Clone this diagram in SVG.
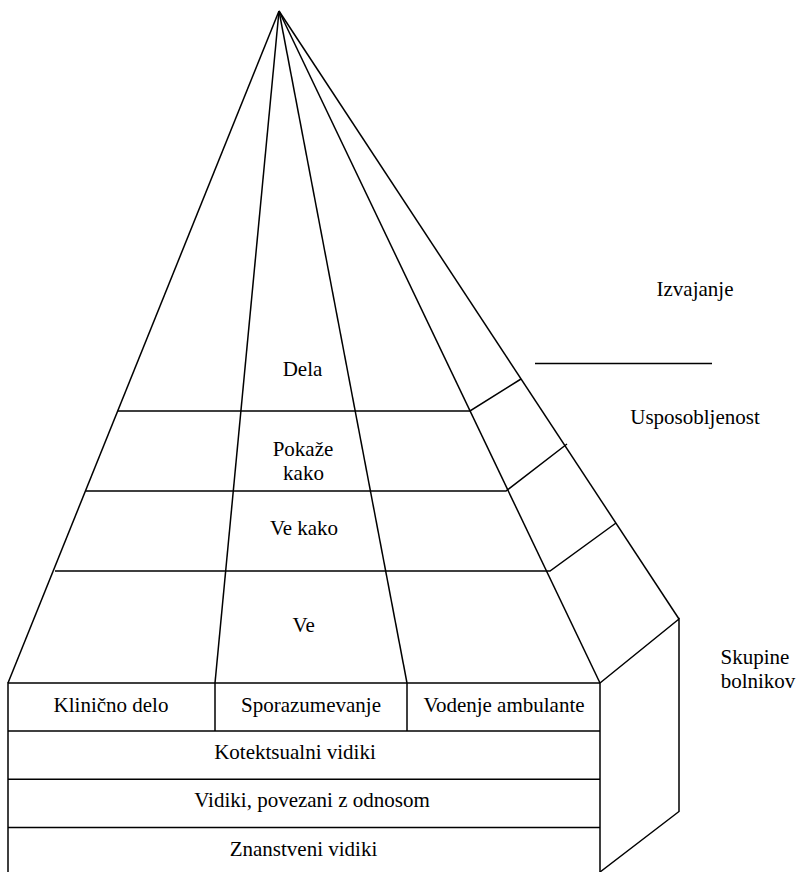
<svg xmlns="http://www.w3.org/2000/svg" width="800" height="872" viewBox="0 0 800 872">
<style>
.ln{stroke:#000;stroke-width:1.5;fill:none;stroke-linejoin:miter}
.t{font-family:"Liberation Serif","DejaVu Serif",serif;font-size:21px;fill:#000;text-anchor:middle}
</style>
<rect width="800" height="872" fill="#fff"/>
<g id="connectors">
<path class="ln" d="M279,11 L8,683"/>
<path class="ln" d="M279,11 L215,683"/>
<path class="ln" d="M279,11 L407,683"/>
<path class="ln" d="M279,11 L600,683"/>
<path class="ln" d="M279,11 L679,619"/>
<path class="ln" d="M118,411 L470,411 L521,379"/>
<path class="ln" d="M86,491 L506,491 L567,444"/>
<path class="ln" d="M55,571 L550,571 L616,523"/>
<path class="ln" d="M535,363.5 L712,363.5"/>
<path class="ln" d="M600,683 L679,619 L679,811.5 L600,872"/>
</g>
<g id="base">
<path class="ln" d="M8,872 L8,683 L600,683 L600,872"/>
<path class="ln" d="M8,731 L600,731"/>
<path class="ln" d="M8,779.3 L600,779.3"/>
<path class="ln" d="M8,827.5 L600,827.5"/>
<path class="ln" d="M215,683 L215,731"/>
<path class="ln" d="M407,683 L407,731"/>
</g>
<g id="n-klinicno"><text class="t" x="111" y="712">Klinično delo</text></g>
<g id="n-sporazumevanje"><text class="t" x="311" y="712">Sporazumevanje</text></g>
<g id="n-vodenje"><text class="t" x="504" y="712">Vodenje ambulante</text></g>
<g id="n-kotektsualni"><text class="t" x="295" y="759">Kotektsualni vidiki</text></g>
<g id="n-vidiki"><text class="t" x="312" y="807">Vidiki, povezani z odnosom</text></g>
<g id="n-znanstveni"><text class="t" x="303.5" y="856">Znanstveni vidiki</text></g>
<g id="n-dela"><text class="t" x="302.5" y="375.5">Dela</text></g>
<g id="n-pokaze"><text class="t" x="303" y="456">Pokaže</text><text class="t" x="303.5" y="480">kako</text></g>
<g id="n-vekako"><text class="t" x="304" y="535">Ve kako</text></g>
<g id="n-ve"><text class="t" x="303.7" y="631.5">Ve</text></g>
<g id="n-izvajanje"><text class="t" x="695" y="296">Izvajanje</text></g>
<g id="n-usposobljenost"><text class="t" x="695" y="424">Usposobljenost</text></g>
<g id="n-skupine"><text class="t" x="755" y="664">Skupine</text><text class="t" x="758" y="688">bolnikov</text></g>
</svg>
